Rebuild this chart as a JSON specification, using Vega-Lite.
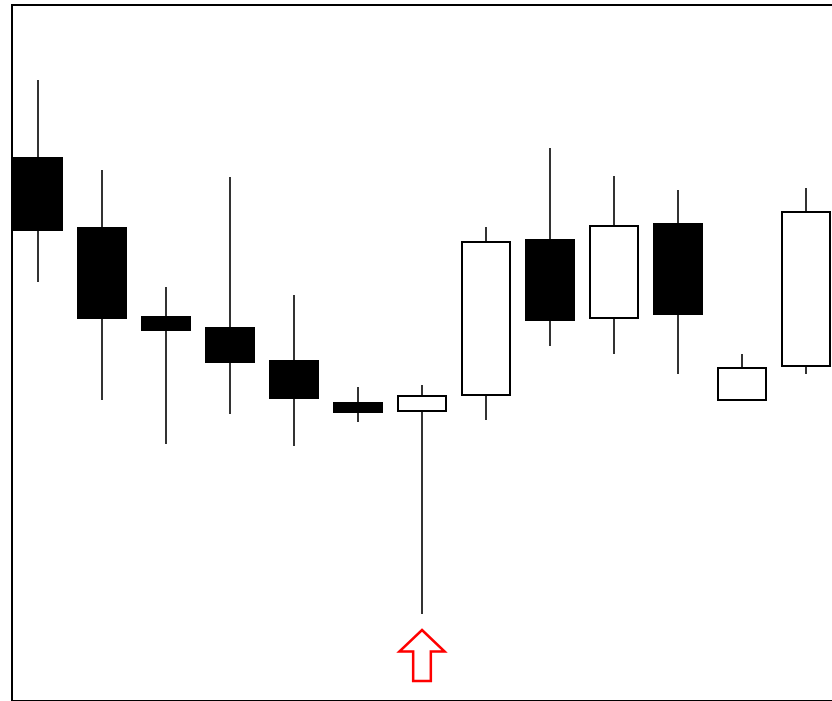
{
  "$schema": "https://vega.github.io/schema/vega-lite/v6.json",
  "width": 830,
  "height": 696,
  "autosize": {"type": "none"},
  "padding": {"left": 12, "top": 5, "right": 0, "bottom": 0},
  "background": "white",
  "config": {"view": {"stroke": "black", "strokeWidth": 2}},
  "layer": [
    {
      "data": {"name": "candles", "values": [
        {"day": 1, "open": 543, "high": 621, "low": 419, "close": 471},
        {"day": 2, "open": 473, "high": 531, "low": 301, "close": 383},
        {"day": 3, "open": 384, "high": 414, "low": 257, "close": 371},
        {"day": 4, "open": 373, "high": 524, "low": 287, "close": 339},
        {"day": 5, "open": 340, "high": 406, "low": 255, "close": 303},
        {"day": 6, "open": 298, "high": 314, "low": 279, "close": 289},
        {"day": 7, "open": 290, "high": 316, "low": 87, "close": 305},
        {"day": 8, "open": 306, "high": 474, "low": 281, "close": 459},
        {"day": 9, "open": 461, "high": 553, "low": 355, "close": 381},
        {"day": 10, "open": 383, "high": 525, "low": 347, "close": 475},
        {"day": 11, "open": 477, "high": 511, "low": 327, "close": 387},
        {"day": 12, "open": 301, "high": 347, "low": 301, "close": 333},
        {"day": 13, "open": 335, "high": 513, "low": 327, "close": 489}
      ]},
      "layer": [
        {
          "mark": {"type": "rule", "color": "#333333", "strokeWidth": 2, "clip": true},
          "encoding": {
            "x": {"field": "day", "type": "quantitative", "scale": {"domain": [0.59375, 13.5625], "nice": false, "zero": false, "padding": 0}, "axis": null},
            "y": {"field": "low", "type": "quantitative", "scale": {"domain": [0, 696], "nice": false, "zero": false, "padding": 0}, "axis": null},
            "y2": {"field": "high"}
          }
        },
        {
          "mark": {"type": "bar", "width": 48, "stroke": "black", "strokeWidth": 2, "clip": true},
          "encoding": {
            "x": {"field": "day", "type": "quantitative", "scale": {"domain": [0.59375, 13.5625], "nice": false, "zero": false, "padding": 0}, "axis": null},
            "y": {"field": "open", "type": "quantitative", "scale": {"domain": [0, 696], "nice": false, "zero": false, "padding": 0}, "axis": null},
            "y2": {"field": "close"},
            "fill": {"condition": {"test": "datum.open > datum.close", "value": "black"}, "value": "white"}
          }
        }
      ]
    },
    {
      "data": {"name": "signal", "values": [{"day": 7, "level": 45.5}]},
      "mark": {
        "type": "point",
        "shape": "M0,-0.98 L0.87,-0.15 L0.34,-0.15 L0.34,0.98 L-0.34,0.98 L-0.34,-0.15 L-0.87,-0.15 Z",
        "size": 2704,
        "filled": true,
        "fill": "white",
        "stroke": "red",
        "strokeWidth": 2.5,
        "opacity": 1
      },
      "encoding": {
        "x": {"field": "day", "type": "quantitative", "scale": {"domain": [0.59375, 13.5625], "nice": false, "zero": false, "padding": 0}, "axis": null},
        "y": {"field": "level", "type": "quantitative", "scale": {"domain": [0, 696], "nice": false, "zero": false, "padding": 0}, "axis": null}
      }
    }
  ]
}
